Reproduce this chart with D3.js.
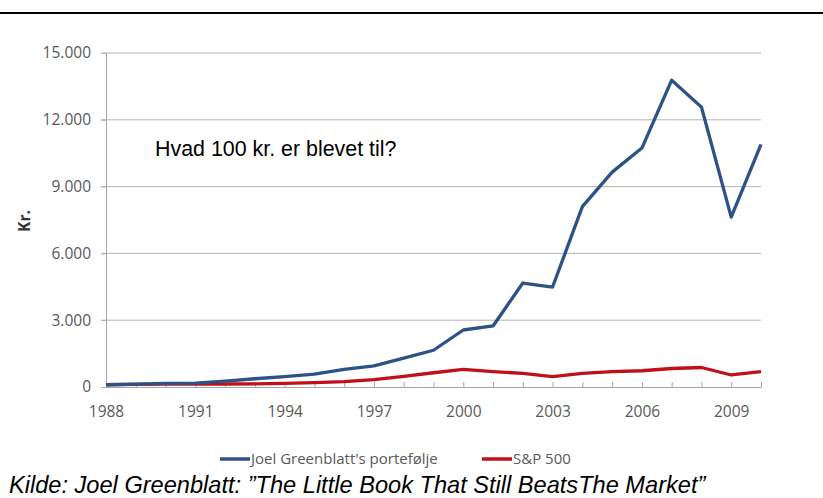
<!DOCTYPE html>
<html>
<head>
<meta charset="utf-8">
<script src="https://cdn.jsdelivr.net/npm/d3@7"></script>
<style>
  body { margin: 0; background: #fff; }
  svg { display: block; }
</style>
</head>
<body>
<div id="chart"></div>
<script>
// Values (kr., start 100 in 1988)
const years = d3.range(1988, 2011);
const greenblatt = [100, 130, 160, 175, 260, 370, 470, 580, 790, 950, 1300, 1650,
  2560, 2740, 4670, 4490, 8100, 9650, 10730, 13780, 12570, 7630, 10900];
const sp500 = [100, 115, 130, 130, 135, 140, 165, 200, 240, 335, 480, 640,
  790, 690, 615, 465, 615, 690, 730, 830, 875, 540, 690];
const yTicks = [0, 3000, 6000, 9000, 12000, 15000];
const xLabelYears = [1988, 1991, 1994, 1997, 2000, 2003, 2006, 2009];
const seriesNames = ["Joel Greenblatt's portefølje", "S&P 500"];

const width = 823, height = 498;
const margin = { top: 53, right: 62, bottom: 111, left: 106 };

const svg = d3.select("#chart").append("svg")
  .attr("width", width)
  .attr("height", height);

const x = d3.scaleLinear().domain([1988, 2010]).range([margin.left, width - margin.right]);
const y = d3.scaleLinear().domain([0, 15000]).range([height - margin.bottom, margin.top]);

const fmt = d => d === 0 ? "0" : d3.format(",")(d).replace(/,/g, ".");
const labelFont = "'Open Sans', 'DejaVu Sans Condensed', sans-serif";
const labelSize = 15.5;

// rule across the top of the slide
svg.append("line")
  .attr("x1", 0).attr("x2", width)
  .attr("y1", 13).attr("y2", 13)
  .attr("stroke", "#000").attr("stroke-width", 2);

// gridlines
svg.append("g")
  .selectAll("line")
  .data(yTicks.filter(d => d > 0))
  .join("line")
  .attr("x1", margin.left - 5).attr("x2", x(2010))
  .attr("y1", d => y(d)).attr("y2", d => y(d))
  .attr("stroke", "#b3b3b3").attr("stroke-width", 1);

// y axis
const yAxis = d3.axisLeft(y).tickValues(yTicks).tickFormat(fmt).tickSize(5).tickPadding(10);
svg.append("g")
  .attr("transform", `translate(${margin.left},0)`)
  .call(yAxis)
  .call(g => g.select(".domain").attr("stroke", "#a6a6a6"))
  .call(g => g.selectAll(".tick line").attr("stroke", "#b3b3b3"))
  .call(g => g.selectAll("text")
    .attr("fill", "#595959")
    .attr("font-family", labelFont)
    .attr("font-size", labelSize));

// x axis: a tick every year, labels every third year
const xAxis = d3.axisBottom(x).tickValues(years).tickSize(-5).tickSizeOuter(0)
  .tickFormat(d => xLabelYears.includes(d) ? d : "").tickPadding(19);
svg.append("g")
  .attr("transform", `translate(0,${y(0)})`)
  .call(xAxis)
  .call(g => g.select(".domain").attr("stroke", "#a6a6a6"))
  .call(g => g.selectAll(".tick line").attr("stroke", "#a6a6a6"))
  .call(g => g.selectAll("text")
    .attr("fill", "#595959")
    .attr("font-family", labelFont)
    .attr("font-size", labelSize));

// y axis title
svg.append("text")
  .attr("transform", `translate(30,${(y(0) + y(15000)) / 2 + 1}) rotate(-90)`)
  .attr("text-anchor", "middle")
  .attr("font-family", labelFont)
  .attr("font-weight", "bold")
  .attr("font-size", 15.5)
  .attr("fill", "#333")
  .text("Kr.");

// lines
const line = d3.line().x((d, i) => x(years[i])).y(d => y(d));
const colors = ["#2c5288", "#c0101a"];
[sp500, greenblatt].forEach((s, k) => {
  svg.append("path")
    .datum(s)
    .attr("fill", "none")
    .attr("stroke", k === 0 ? colors[1] : colors[0])
    .attr("stroke-width", 3.3)
    .attr("stroke-linejoin", "round")
    .attr("d", line);
});

// annotation
svg.append("text")
  .attr("x", 155).attr("y", 156)
  .attr("font-family", "'Liberation Sans', Arial, sans-serif")
  .attr("font-size", 21.4)
  .attr("fill", "#000")
  .text("Hvad 100 kr. er blevet til?");

// legend
const legend = svg.append("g").attr("transform", "translate(0,459)");
const legendX = [220, 482];
seriesNames.forEach((name, i) => {
  legend.append("line")
    .attr("x1", legendX[i]).attr("x2", legendX[i] + 30)
    .attr("y1", 0).attr("y2", 0)
    .attr("stroke", colors[i]).attr("stroke-width", 3.5);
  legend.append("text")
    .attr("x", legendX[i] + 31).attr("y", 5)
    .attr("font-family", labelFont)
    .attr("font-size", 15)
    .attr("fill", "#595959")
    .text(name);
});

// source
svg.append("text")
  .attr("x", 9).attr("y", 493)
  .attr("font-family", "'Liberation Sans', Arial, sans-serif")
  .attr("font-style", "italic")
  .attr("font-size", 23.6)
  .attr("fill", "#000")
  .text("Kilde: Joel Greenblatt: ”The Little Book That Still BeatsThe Market”");
</script>
</body>
</html>
